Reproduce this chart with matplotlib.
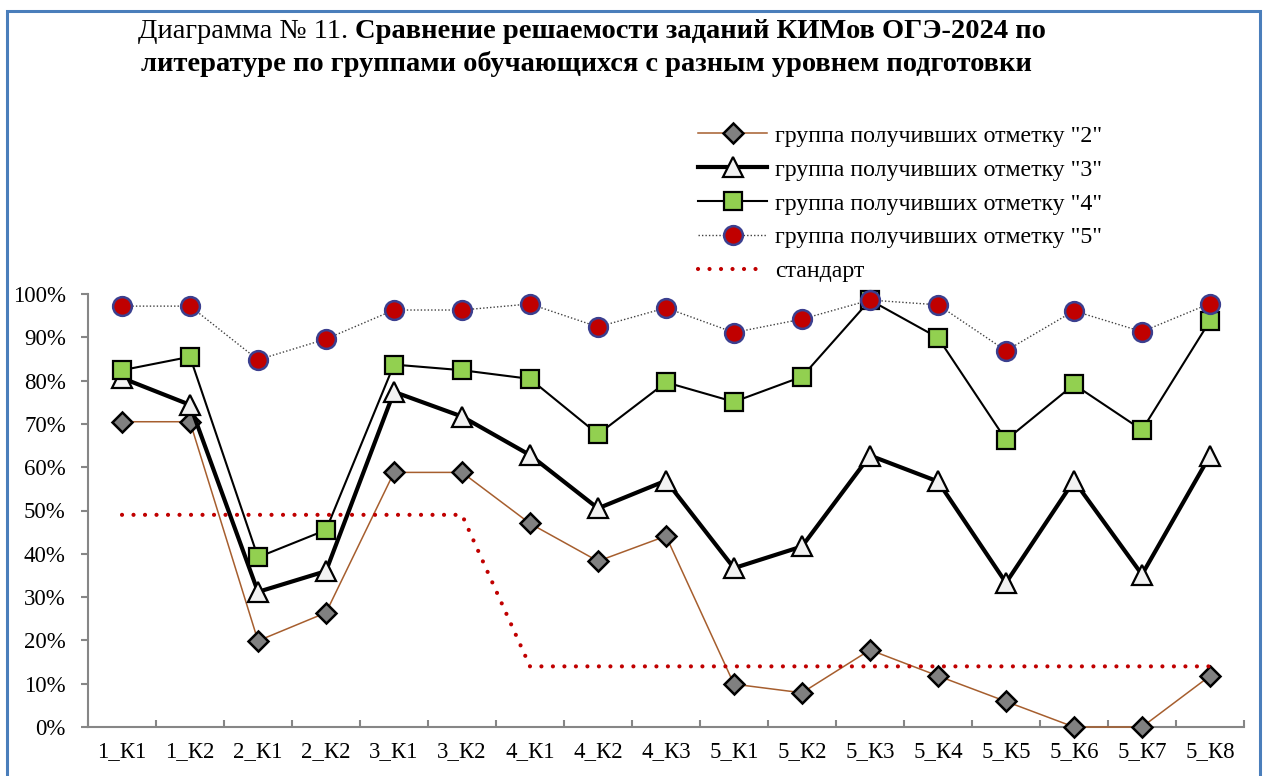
import matplotlib
matplotlib.use("Agg")
import matplotlib.pyplot as plt
from matplotlib.lines import Line2D
from matplotlib.patches import Rectangle
from matplotlib.ticker import FixedLocator, NullFormatter

plt.rcParams['font.family'] = ['Liberation Serif', 'DejaVu Serif']

categories = ['1_К1', '1_К2', '2_К1', '2_К2', '3_К1', '3_К2', '4_К1', '4_К2', '4_К3',
              '5_К1', '5_К2', '5_К3', '5_К4', '5_К5', '5_К6', '5_К7', '5_К8']
group2 = [70.5, 70.5, 19.9, 26.4, 58.8, 58.8, 47.0, 38.3, 44.1, 9.9, 7.9, 17.8, 11.8, 5.9, 0, 0, 11.8]
group3 = [80.6, 74.4, 31.2, 36.0, 77.4, 71.7, 62.8, 50.5, 56.9, 36.7, 41.7, 62.7, 56.7, 33.3, 56.9, 35.2, 62.7]
group4 = [82.4, 85.5, 39.2, 45.5, 83.7, 82.4, 80.4, 67.6, 79.6, 75.1, 80.9, 98.6, 89.9, 66.3, 79.1, 68.6, 93.8]
group5 = [97.2, 97.2, 84.8, 89.6, 96.3, 96.3, 97.7, 92.4, 96.8, 91.1, 94.2, 98.6, 97.5, 86.9, 96.1, 91.3, 97.8]
standard = [49, 49, 49, 49, 49, 49, 14, 14, 14, 14, 14, 14, 14, 14, 14, 14, 14]
y_ticks = [0, 10, 20, 30, 40, 50, 60, 70, 80, 90, 100]
labels = ['группа получивших отметку "2"', 'группа получивших отметку "3"',
          'группа получивших отметку "4"', 'группа получивших отметку "5"', 'стандарт']
title_plain = 'Диаграмма № 11.'
title_bold1 = 'Сравнение решаемости заданий КИМов ОГЭ-2024 по'
title_bold2 = 'литературе по группами обучающихся с разным уровнем подготовки'

W, H = 1267, 776
fig = plt.figure(figsize=(W / 100, H / 100), dpi=100)
ax = fig.add_axes([88 / W, 1 - 727 / H, 1156 / W, 433 / H])

x = list(range(len(categories)))
axis_gray = '#868686'

l2, = ax.plot(x, group2, color='#A65E2E', lw=1.1, marker='D', ms=10.5, mfc='#808080',
              mec='black', mew=1.8, zorder=3, clip_on=False)
l3, = ax.plot(x, group3, color='black', lw=3, marker='^', ms=14, mfc='#F2F2F2',
              mec='black', mew=1.6, zorder=4, clip_on=False)
l4, = ax.plot(x, group4, color='black', lw=1.5, marker='s', ms=13, mfc='#92D050',
              mec='black', mew=1.6, zorder=5, clip_on=False)
l5, = ax.plot(x, group5, color='#404040', lw=1.0, ls=(0, (1, 1.5)), marker='o', ms=13.5,
              mfc='#C00000', mec='#3B3F8F', mew=1.8, zorder=6, clip_on=False)
ls_std, = ax.plot(x, standard, color='#C00000', lw=3, ls=(0, (0.01, 2.75)),
                  dash_capstyle='round', zorder=7, clip_on=False)

ax.set_xlim(-0.5, len(categories) - 0.5)
ax.set_ylim(0, 100)
ax.set_xticks(x)
ax.set_xticklabels(categories, fontsize=16.5)
ax.xaxis.set_minor_locator(FixedLocator([i - 0.5 for i in range(len(categories) + 1)]))
ax.xaxis.set_minor_formatter(NullFormatter())
ax.tick_params(axis='x', which='major', length=0, pad=10)
ax.tick_params(axis='x', which='minor', direction='in', length=5, width=1.5, color=axis_gray)
ax.set_yticks(y_ticks)
ax.set_yticklabels([f'{v}%' for v in y_ticks], fontsize=16.5)
ax.tick_params(axis='y', direction='out', length=5, width=1.5, color=axis_gray, pad=11)

for s in ['top', 'right']:
    ax.spines[s].set_visible(False)
for s in ['left', 'bottom']:
    ax.spines[s].set_color(axis_gray)
    ax.spines[s].set_linewidth(1.5)

# legend
leg = ax.legend([l2, l3, l4, l5, ls_std], labels, loc='upper left',
                bbox_to_anchor=(698 / W, 1 - 125 / H), bbox_transform=fig.transFigure,
                frameon=False, fontsize=17.2, handlelength=2.9, handletextpad=0.33,
                labelspacing=0.51, borderpad=0, borderaxespad=0, numpoints=1)

# title (mixed weights)
renderer = fig.canvas.get_renderer()
fs = 20.5
t1 = fig.text(0, 1 - 32 / H, title_plain, fontsize=fs, va='center', ha='left')
t2 = fig.text(0, 1 - 32 / H, title_bold1, fontsize=fs, va='center', ha='left', fontweight='bold')
w1 = t1.get_window_extent(renderer).width
w2 = t2.get_window_extent(renderer).width
gap = 0.25 * fs * 100 / 72
total = w1 + gap + w2
start = 592 - total / 2
t1.set_x(start / W)
t2.set_x((start + w1 + gap) / W)
fig.text(586 / W, 1 - 64 / H, title_bold2, fontsize=fs, va='center', ha='center', fontweight='bold')

# outer frame
fig.patches.append(Rectangle((7 / W, -0.05), (1260 - 7) / W, 1.05 - 11 / H,
                             transform=fig.transFigure, fill=False, edgecolor='#4A7EBB',
                             lw=2.2, zorder=0))

fig.savefig('out.png', dpi=100)
